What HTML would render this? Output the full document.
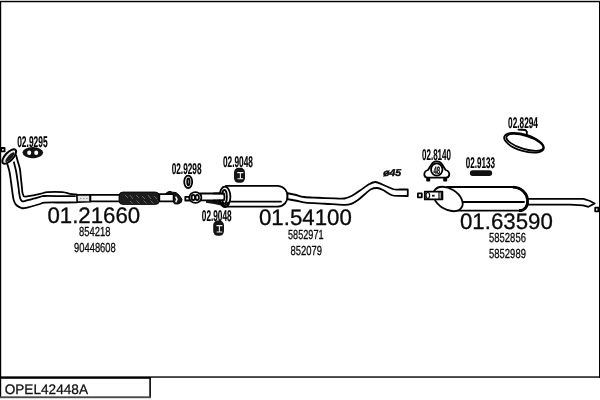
<!DOCTYPE html>
<html>
<head>
<meta charset="utf-8">
<title>OPEL42448A</title>
<style>
html,body{margin:0;padding:0;background:#fff;}
body{width:600px;height:400px;overflow:hidden;position:relative;font-family:"Liberation Sans",sans-serif;}
svg{position:absolute;left:0;top:0;display:block;will-change:transform;}
text{font-family:"Liberation Sans",sans-serif;fill:#111;text-rendering:geometricPrecision;}
.big{font-size:22.4px;fill:#0a0a0a;stroke:#0a0a0a;stroke-width:0.3;}
.mid{font-size:13.2px;fill:#0a0a0a;stroke:#0a0a0a;stroke-width:0.3;}
.sm{font-size:15.5px;fill:#000;font-weight:bold;stroke:#000;stroke-width:0.15;}
.ln{fill:none;stroke:#000;stroke-width:1.8;stroke-linecap:round;stroke-linejoin:round;}
.lw{fill:#fff;stroke:#000;stroke-width:1.8;stroke-linecap:round;stroke-linejoin:round;}
</style>
</head>
<body>
<svg width="600" height="400" viewBox="0 0 600 400">
<rect x="0" y="0" width="600" height="400" fill="#fff"/>
<!-- frame -->
<g id="frame" fill="#000">
<rect x="0" y="0.8" width="600" height="1.45"/>
<rect x="0" y="1" width="1.2" height="397"/>
<rect x="599" y="1" width="1" height="377"/>
<rect x="0" y="376.35" width="600" height="1.4"/>
<rect x="0" y="377" width="150.9" height="1.8"/>
<rect x="149.3" y="377" width="1.6" height="20.6"/>
<rect x="0" y="396.3" width="150.9" height="1.9" fill="#4a4a4a"/>
</g>
<text x="4.7" y="393.9" font-size="13.8" textLength="83.3" lengthAdjust="spacingAndGlyphs" fill="#000" stroke="#000" stroke-width="0.25">OPEL42448A</text>

<!-- front pipe 01.21660 -->
<g id="frontpipe">
<path d="M7.10,163.40 C7.48,164.71 8.77,168.32 9.40,171.25 C10.03,174.18 10.47,178.00 10.90,181.00 C11.33,184.00 11.69,186.96 12.00,189.25 C12.31,191.54 12.43,192.83 12.75,194.75 C13.07,196.67 13.28,199.00 13.90,200.75 C14.53,202.50 15.19,204.03 16.50,205.25 C17.81,206.47 20.12,207.67 21.75,208.10 C23.38,208.53 23.21,208.48 26.25,207.80 C29.29,207.12 36.96,204.87 40.00,204.00 C43.04,203.13 40.75,202.85 44.50,202.60 C48.25,202.35 57.17,202.53 62.50,202.50 C67.83,202.47 74.17,202.42 76.50,202.40 L76.50,194.40 C75.42,194.32 72.33,194.28 70.00,193.90 C67.67,193.52 66.25,192.40 62.50,192.10 C58.75,191.80 51.25,191.80 47.50,192.10 C43.75,192.40 43.67,193.15 40.00,193.90 C36.33,194.65 28.29,196.40 25.50,196.60 C22.71,196.80 23.78,195.91 23.25,195.10 C22.72,194.29 22.49,192.72 22.30,191.75 C22.11,190.78 22.32,191.42 22.10,189.25 C21.88,187.08 21.37,182.12 21.00,178.75 C20.63,175.38 20.43,171.88 19.90,169.00 C19.37,166.12 18.42,163.75 17.80,161.50 C17.18,159.25 16.47,156.50 16.20,155.50 Z" fill="#fff" stroke="none"/>
<path class="ln" stroke-width="1.7" d="M7.10,163.40 C7.48,164.71 8.77,168.32 9.40,171.25 C10.03,174.18 10.47,178.00 10.90,181.00 C11.33,184.00 11.69,186.96 12.00,189.25 C12.31,191.54 12.43,192.83 12.75,194.75 C13.07,196.67 13.28,199.00 13.90,200.75 C14.53,202.50 15.19,204.03 16.50,205.25 C17.81,206.47 20.12,207.67 21.75,208.10 C23.38,208.53 23.21,208.48 26.25,207.80 C29.29,207.12 36.96,204.87 40.00,204.00 C43.04,203.13 40.75,202.85 44.50,202.60 C48.25,202.35 57.17,202.53 62.50,202.50 C67.83,202.47 74.17,202.42 76.50,202.40"/>
<path class="ln" stroke-width="1.7" d="M13.90,162.25 C14.27,163.75 15.48,168.12 16.10,171.25 C16.72,174.38 17.16,178.00 17.60,181.00 C18.04,184.00 18.50,187.33 18.75,189.25 C19.00,191.17 18.85,190.96 19.10,192.50 C19.35,194.04 19.75,197.07 20.25,198.50 C20.75,199.93 21.35,200.67 22.10,201.10 C22.85,201.53 21.77,201.80 24.75,201.10 C27.73,200.40 36.71,197.75 40.00,196.90 C43.29,196.05 40.75,196.13 44.50,196.00 C48.25,195.87 57.42,196.08 62.50,196.10 C67.58,196.12 72.92,196.10 75.00,196.10"/>
<path class="ln" stroke-width="1.6" d="M16.20,155.50 C16.47,156.50 17.18,159.25 17.80,161.50 C18.42,163.75 19.37,166.12 19.90,169.00 C20.43,171.88 20.63,175.38 21.00,178.75 C21.37,182.12 21.88,187.08 22.10,189.25 C22.32,191.42 22.11,190.78 22.30,191.75 C22.49,192.72 22.72,194.29 23.25,195.10 C23.78,195.91 22.71,196.80 25.50,196.60 C28.29,196.40 36.33,194.65 40.00,193.90 C43.67,193.15 43.75,192.40 47.50,192.10 C51.25,191.80 58.75,191.80 62.50,192.10 C66.25,192.40 67.67,193.52 70.00,193.90 C72.33,194.28 75.42,194.32 76.50,194.40"/>
<ellipse cx="9.2" cy="156.5" rx="9.1" ry="4" transform="rotate(-47 9.2 156.5)" fill="#ededed" stroke="#000" stroke-width="2"/>
<ellipse cx="9.9" cy="157.1" rx="6.4" ry="2" transform="rotate(-47 9.9 157.1)" fill="#1a1a1a"/>
<rect class="lw" x="1.2" y="148" width="3.4" height="3.4" stroke-width="1.2"/>
<path d="M76.8,194.9 L90.2,194.9 L90.2,201.7 L77.2,202.1 Z" fill="#e2e2e2" stroke="#000" stroke-width="1.6" stroke-linejoin="round"/>
<path d="M80,198.5 L88,198.5" stroke="#999" stroke-width="1.2" stroke-dasharray="1.5 1.5" fill="none"/>
<path class="lw" stroke-width="1.8" d="M90.4,194.85 L121,194.85 L121,201.4 L90.4,201.4 Z"/>
<rect x="119" y="192" width="40.3" height="12.5" rx="4" fill="#1c1c1c" stroke="#000" stroke-width="0.8"/>
<path d="M125,195 l3,3 m2,-3 l3,4 m3,-4 l3,3 m3,-2 l3,3 m3,-4 l3,4 m3,-3 l3,3 m-27,2 l2.5,2.5 m4,-3 l3,3 m4,-3 l3,3 m4,-3 l3,3 m4,-3 l2.5,2.5" stroke="#fff" stroke-width="0.7" fill="none" opacity="0.45"/>
<path class="lw" stroke-width="1.85" d="M159.3,194.2 L173.6,194.2 L173.6,201.3 L159.3,201.3 Z"/>
<path d="M165.4,193.6 L168,191.9 L170,191.4 L172.5,192.2 L176,192.6 L179.5,195.5 L182,199.4 L181.2,202.4 L178,204 L174.4,203.8 L173.4,201.6 L173.8,194.6 L170,194 Z" fill="#161616" stroke="#000" stroke-width="1" stroke-linejoin="round"/>
<path d="M175.6,196.6 L177,199 L175.8,202.2" stroke="#f4f4f4" stroke-width="1.6" fill="none"/>
</g>

<!-- 02.9295 -->
<text class="sm" x="17.2" y="146.6" textLength="30.4" lengthAdjust="spacingAndGlyphs">02.9295</text>
<g id="g9295">
<ellipse cx="32.8" cy="152.6" rx="10.3" ry="5.5" fill="#111"/>
<ellipse cx="33" cy="157" rx="3.5" ry="1.3" fill="#111"/>
<ellipse cx="29.2" cy="152.7" rx="2" ry="2.2" fill="#fff"/>
<ellipse cx="36.2" cy="152.7" rx="2" ry="2.2" fill="#fff"/>
</g>

<!-- 02.9298 -->
<text class="sm" x="171.7" y="173.6" textLength="29.8" lengthAdjust="spacingAndGlyphs">02.9298</text>
<ellipse class="lw" cx="188.2" cy="181.8" rx="4" ry="6.2" stroke-width="2.1"/>
<ellipse class="ln" cx="188.4" cy="181.8" rx="1.2" ry="3.5" stroke-width="0.9"/>

<!-- 02.9048 upper -->
<text class="sm" x="222.9" y="167.25" textLength="30" lengthAdjust="spacingAndGlyphs">02.9048</text>
<g id="hang1">
<rect x="234" y="167.8" width="11" height="15" rx="4.5" ry="4.8" fill="#141414"/>
<path d="M237.2,172.6 L243.4,172.6 M240.4,172.6 L240.4,178.6 M237.5,178.8 L243.1,178.8" stroke="#f0f0f0" stroke-width="1.1" fill="none"/>
</g>
<!-- 02.9048 lower -->
<text class="sm" x="201.8" y="221" textLength="29.8" lengthAdjust="spacingAndGlyphs">02.9048</text>
<g id="hang2">
<rect x="213.2" y="220.6" width="10.8" height="15.2" rx="4.5" ry="4.8" fill="#141414"/>
<path d="M216.4,225.6 L222.4,225.6 M219.4,225.6 L219.4,231.8 M216.6,232 L222.2,232" stroke="#f0f0f0" stroke-width="1.1" fill="none"/>
</g>

<!-- middle silencer 01.54100 -->
<g id="mid">
<path class="lw" d="M185.3,196.9 L189.5,196.9 L189.5,200.5 L185.3,200.5 Z" stroke-width="1.3"/>
<path class="lw" d="M200.5,193.5 L222,193.5 L222,200.3 L200.5,200.3 Z" stroke-width="1.9"/>
<path d="M206,200.6 L226,200.6 L226,206.4 L221,205.6 L214,204 L206,202.8 Z" fill="#111"/>
<ellipse class="lw" cx="195.4" cy="197.5" rx="6" ry="5.4" stroke-width="1.9"/>
<ellipse class="ln" cx="193.3" cy="197.5" rx="1.7" ry="2.7" stroke-width="1.2"/>
<ellipse class="ln" cx="197.2" cy="197.5" rx="1.7" ry="2.7" stroke-width="1.2"/>
<path class="lw" d="M226,185.8 L278,185.8 C284.5,186.5 287.6,191.5 287.6,196.3 C287.6,201.3 284.5,206 278,206.7 L226,206.7 Z" stroke-width="2"/>
<path class="ln" d="M231,201.7 L281,201.7" stroke-width="1.4"/>
<ellipse class="lw" cx="224.9" cy="196.8" rx="5.5" ry="10.2" stroke-width="2.5"/>
<ellipse class="ln" cx="224.4" cy="196.8" rx="2.5" ry="6.8" stroke-width="1.3"/>
<path class="ln" d="M221.5,203 C223,206.2 226.5,206.2 228.2,202.5" stroke-width="2.6"/>
<path d="M214,194.5 L223.6,194.5 L223.6,199.4 L214,199.4 Z" fill="#fff"/>
<path class="ln" d="M214,193.5 L223.8,193.5 M214,200.3 L222.5,200.3" stroke-width="1.9"/>
<path class="ln" d="M223.9,193.6 C224.7,195.6 224.7,198.4 223.9,200.2" stroke-width="1.2"/>
<path d="M287.50,193.20 C288.75,193.46 292.25,194.12 295.00,194.75 C297.75,195.38 300.25,196.50 304.00,197.00 C307.75,197.50 312.33,197.52 317.50,197.75 C322.67,197.98 330.50,198.28 335.00,198.40 C339.50,198.53 341.67,198.93 344.50,198.50 C347.33,198.07 349.42,197.13 352.00,195.80 C354.58,194.47 357.08,192.47 360.00,190.50 C362.92,188.53 366.92,185.42 369.50,184.00 C372.08,182.58 373.25,181.88 375.50,182.00 C377.75,182.12 380.00,183.54 383.00,184.75 C386.00,185.96 390.67,188.46 393.50,189.25 C396.33,190.04 397.62,189.46 400.00,189.50 C402.38,189.54 406.46,189.50 407.75,189.50 L407.75,196.00 C406.46,195.98 402.62,196.03 400.00,195.90 C397.38,195.78 394.83,196.23 392.00,195.25 C389.17,194.27 385.50,191.21 383.00,190.00 C380.50,188.79 379.00,188.12 377.00,188.00 C375.00,187.88 373.00,188.25 371.00,189.25 C369.00,190.25 367.17,192.21 365.00,194.00 C362.83,195.79 360.42,198.30 358.00,200.00 C355.58,201.70 353.00,203.40 350.50,204.20 C348.00,205.00 347.25,204.88 343.00,204.80 C338.75,204.73 331.25,204.10 325.00,203.75 C318.75,203.40 310.25,203.20 305.50,202.70 C300.75,202.20 299.50,201.33 296.50,200.75 C293.50,200.17 289.00,199.46 287.50,199.20 Z" fill="#fff" stroke="#000" stroke-width="1.8" stroke-linejoin="round"/>
</g>

<!-- phi 45 -->
<text x="383.2" y="176.4" font-size="9.8" font-weight="bold" font-style="italic" textLength="18" lengthAdjust="spacingAndGlyphs" fill="#000" stroke="#000" stroke-width="0.45">ø45</text>
<!-- small square -->
<rect class="lw" x="417.9" y="193.4" width="3.9" height="3.9" stroke-width="1.3"/>

<!-- rear silencer -->
<g id="rear">
<path class="lw" d="M447,187 L512,187 C522,187.5 527.2,194 527.6,200 C528,206 525,210.7 519,210.7 L451,210.7 Z" stroke-width="2"/>
<path d="M513,187.1 C522,187.5 527.2,194 527.6,200 C528,206 525,210.7 519,210.7" fill="none" stroke="#000" stroke-width="2.8"/>
<path class="lw" d="M528,198.8 L583.5,198.8 L590,201 L594.7,203.5 L588.5,206.8 L583,205.4 L570,204.7 L528,204.7 Z" stroke-width="1.7"/>
<ellipse class="lw" cx="448" cy="199" rx="16" ry="10.4" transform="rotate(32 448 199)" stroke-width="2.4"/>
<path class="ln" d="M463,202 L524,202" stroke-width="1.5"/>
<path class="lw" d="M424.8,191.6 L442.4,191.6 L442.4,199.4 L424.8,199.4 Z" stroke-width="1.7"/>
<ellipse cx="427.8" cy="195.5" rx="1.8" ry="3" fill="none" stroke="#000" stroke-width="1.2"/>
<rect x="432" y="194.8" width="2.6" height="1.8" fill="#111"/>
<rect x="438.4" y="192" width="1.2" height="7" fill="#111"/>
<rect x="440.6" y="192" width="1.4" height="7" fill="#111"/>
<rect class="lw" x="595.2" y="207.7" width="3.2" height="3.6" stroke-width="1.2"/>
</g>

<!-- 02.8140 -->
<text class="sm" x="422" y="159.5" textLength="29" lengthAdjust="spacingAndGlyphs">02.8140</text>
<g id="clamp">
<path class="lw" d="M424.3,174.3 C424.3,172 426,170.6 428,170 L431.6,164.2 C433,162.2 434.8,161.4 436.8,161.4 C438.8,161.4 440.6,162.2 442,164.2 L445.6,170 C447.6,170.6 449.3,172 449.3,174.3 C449.3,176.6 447.6,177.6 446,177.6 L427.6,177.6 C426,177.6 424.3,176.6 424.3,174.3 Z" stroke-width="1.9"/>
<rect x="426.2" y="177" width="4" height="4.5" rx="0.8" fill="#000"/>
<rect x="443.2" y="177" width="4" height="4.5" rx="0.8" fill="#000"/>
<ellipse class="lw" cx="436.75" cy="169.5" rx="5.7" ry="6.1" stroke-width="1.7"/>
<text x="433.4" y="173.5" font-size="10.6" font-weight="bold" textLength="6.8" lengthAdjust="spacingAndGlyphs" fill="#000" stroke="#000" stroke-width="0.3">48</text>
</g>

<!-- 02.9133 -->
<text class="sm" x="465.8" y="168.2" textLength="29.2" lengthAdjust="spacingAndGlyphs">02.9133</text>
<rect x="469.8" y="170.2" width="22.4" height="5.8" rx="2.9" fill="#111"/>

<!-- 02.8294 -->
<text class="sm" x="508.1" y="127.9" textLength="29.8" lengthAdjust="spacingAndGlyphs">02.8294</text>
<g id="ring">
<ellipse class="lw" cx="524" cy="142.8" rx="20.6" ry="8.2" transform="rotate(17 524 142.8)" stroke-width="2.4"/>
<ellipse class="ln" cx="524.8" cy="142.4" rx="19.2" ry="6.6" transform="rotate(17 524.8 142.4)" stroke-width="0.8"/>
<path class="ln" d="M518.5,129.6 L525.5,130 L527,132 L526.6,135" stroke-width="1.8"/>
</g>

<!-- big labels -->
<text class="big" x="47.4" y="223.4" textLength="92.8" lengthAdjust="spacingAndGlyphs">01.21660</text>
<text class="mid" x="79.1" y="235.9" textLength="31.4" lengthAdjust="spacingAndGlyphs">854218</text>
<text class="mid" x="74" y="252.3" textLength="41.8" lengthAdjust="spacingAndGlyphs">90448608</text>

<text class="big" x="259" y="225.4" textLength="92.8" lengthAdjust="spacingAndGlyphs">01.54100</text>
<text class="mid" x="288" y="238.9" textLength="35.6" lengthAdjust="spacingAndGlyphs">5852971</text>
<text class="mid" x="290.6" y="255" textLength="31.5" lengthAdjust="spacingAndGlyphs">852079</text>

<text class="big" x="460" y="229.1" textLength="92.8" lengthAdjust="spacingAndGlyphs">01.63590</text>
<text class="mid" x="489.1" y="241.7" textLength="36.8" lengthAdjust="spacingAndGlyphs">5852856</text>
<text class="mid" x="489.1" y="258.2" textLength="36.8" lengthAdjust="spacingAndGlyphs">5852989</text>
</svg>
</body>
</html>
